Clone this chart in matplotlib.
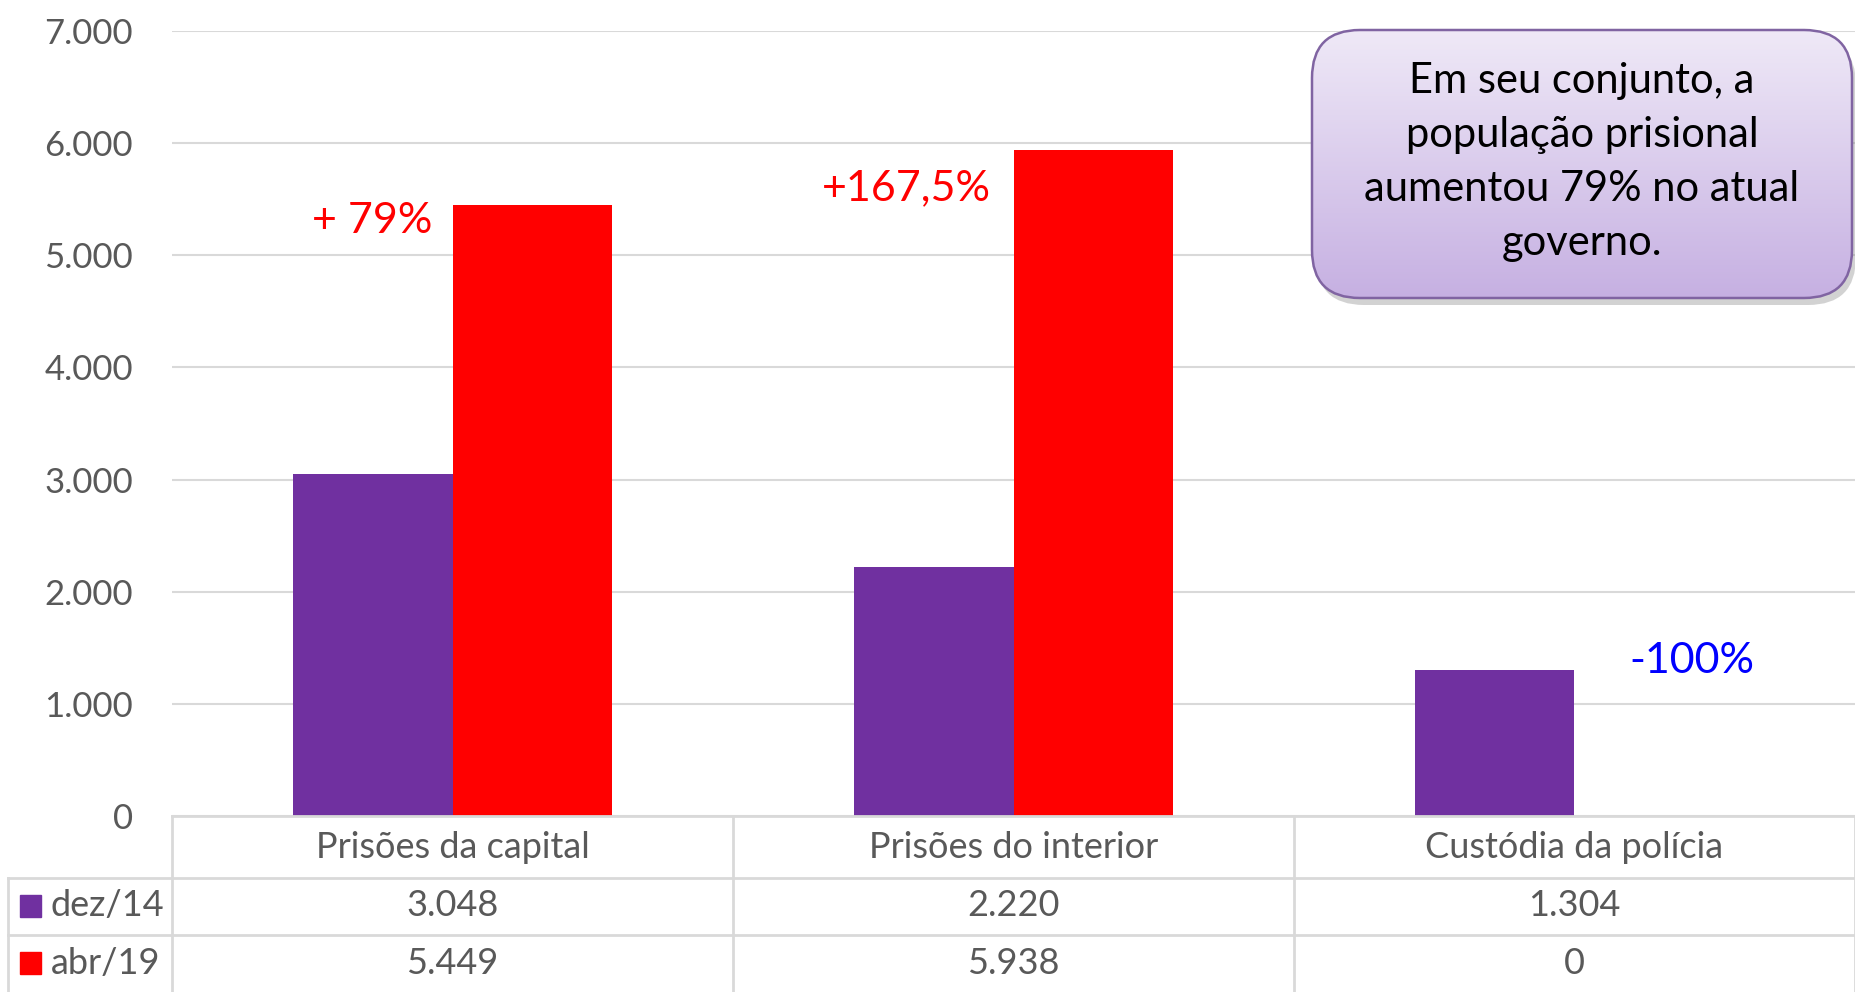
import numpy as np
import matplotlib
matplotlib.use('Agg')
import matplotlib.pyplot as plt
from matplotlib.patches import FancyBboxPatch, Rectangle
from matplotlib.colors import LinearSegmentedColormap

plt.rcParams['font.family'] = ['Lato', 'DejaVu Sans']

# ---------------------------------------------------------------- data
categories = ['Prisões da capital', 'Prisões do interior', 'Custódia da polícia']
series_names = ['dez/14', 'abr/19']
dez14 = [3048, 2220, 1304]
abr19 = [5449, 5938, 0]
y_ticks = [0, 1000, 2000, 3000, 4000, 5000, 6000, 7000]
change_labels = ['+ 79%', '+167,5%', '-100%']
callout = 'Em seu conjunto, a\npopulação prisional\naumentou 79% no atual\ngoverno.'

PURPLE = '#7030a0'
RED = '#ff0000'
GRAY = '#595959'
GRID = '#d9d9d9'

W, H = 1855, 992


def fmt(v):
  return '{:,}'.format(v).replace(',', '.')


#------------------------------------------------------------------------------
def main():
  fig = plt.figure(figsize=(W / 100, H / 100), dpi=100)
  fig.patch.set_facecolor('white')

  # main plot area, in pixel boxes
  left, right, top, base = 172, 1855, 31, 816
  ax = fig.add_axes([left / W, (H - base) / H, (right - left) / W, (base - top) / H])
  x = np.arange(len(categories))
  bw = 0.285
  ax.bar(x - bw / 2, dez14, bw, color=PURPLE, zorder=3)
  ax.bar(x + bw / 2, abr19, bw, color=RED, zorder=3)
  ax.set_xlim(-0.5, 2.5)
  ax.set_ylim(0, 7000)
  ax.set_yticks(y_ticks)
  ax.set_yticklabels([fmt(t) for t in y_ticks])
  ax.set_xticks([])
  ax.tick_params(axis='y', length=0, pad=28, labelsize=25, labelcolor=GRAY)
  ax.grid(axis='y', color=GRID, lw=1.5, zorder=0)
  for s in ax.spines.values():
    s.set_visible(False)

  # change annotations
  ax.text(-0.035, 5310, change_labels[0], color=RED, fontsize=31, ha='right', va='center')
  ax.text(0.96, 5600, change_labels[1], color=RED, fontsize=31, ha='right', va='center')
  ax.text(2.21, 1380, change_labels[2], color='#0000ff', fontsize=31, ha='center', va='center')

  # data table under the plot
  tab = fig.add_axes([left / W, 0, (right - left) / W, (H - base) / H])
  tab.set_xlim(-0.5, 2.5)
  row_px = [816, 878, 935, 992]
  tab.set_ylim(0, H - 816)
  tab.axis('off')
  def ty(p):
    return H - p
  legend_left = -0.5 - (left - 8) / 561.0
  # header lines
  tab.plot([-0.5, 2.5], [ty(816), ty(816)], color=GRID, lw=2, clip_on=False)
  for r in row_px[1:3]:
    tab.plot([legend_left, 2.5], [ty(r), ty(r)], color=GRID, lw=2, clip_on=False)
  for b in [-0.5, 0.5, 1.5, 2.5]:
    tab.plot([b, b], [ty(816), ty(992)], color=GRID, lw=2, clip_on=False)
  tab.plot([legend_left, legend_left], [ty(878), ty(992)], color=GRID, lw=2, clip_on=False)

  for i, c in enumerate(categories):
    tab.text(i, ty(847), c, ha='center', va='center', fontsize=26, color=GRAY)
  rows = [dez14, abr19]
  colors = [PURPLE, RED]
  centers = [906, 963]
  for name, vals, col, cy in zip(series_names, rows, colors, centers):
    for i, v in enumerate(vals):
      tab.text(i, ty(cy), fmt(v), ha='center', va='center', fontsize=26, color=GRAY)
    sx = -0.5 - (left - 20) / 561.0
    tab.add_patch(Rectangle((sx, ty(cy) - 11), 21 / 561.0, 22, color=col, clip_on=False))
    tab.text(-0.5 - (left - 51) / 561.0, ty(cy), name, ha='left', va='center',
             fontsize=26, color=GRAY, clip_on=False)

  # callout box overlay
  ov = fig.add_axes([0, 0, 1, 1])
  ov.set_xlim(0, W)
  ov.set_ylim(H, 0)
  ov.axis('off')
  bx, by, bw2, bh = 1312, 30, 540, 268
  shadow = FancyBboxPatch((bx + 4, by + 7), bw2, bh, boxstyle='round,pad=0,rounding_size=48',
                          fc='#7f7f7f', ec='none', alpha=0.35)
  ov.add_patch(shadow)
  box = FancyBboxPatch((bx, by), bw2, bh, boxstyle='round,pad=0,rounding_size=48',
                       fc='none', ec='#8064a2', lw=1.8, zorder=4)
  ov.add_patch(box)
  cmap = LinearSegmentedColormap.from_list('lav', ['#efe9f7', '#c6b0e2'])
  grad = np.linspace(0, 1, 256).reshape(-1, 1)
  im = ov.imshow(grad, cmap=cmap, extent=[bx, bx + bw2, by + bh, by], origin='upper',
                 aspect='auto', zorder=3)
  clip = FancyBboxPatch((bx, by), bw2, bh, boxstyle='round,pad=0,rounding_size=48',
                        fc='none', ec='none', transform=ov.transData)
  im.set_clip_path(clip)
  ov.set_xlim(0, W)
  ov.set_ylim(H, 0)
  ov.text(bx + bw2 / 2, by + bh / 2 - 2, callout, ha='center', va='center', fontsize=30,
          color='black', linespacing=1.52, zorder=5)

  fig.savefig('out.png', dpi=100)


#------------------------------------------------------------------------------
if __name__ == '__main__':
  main()
